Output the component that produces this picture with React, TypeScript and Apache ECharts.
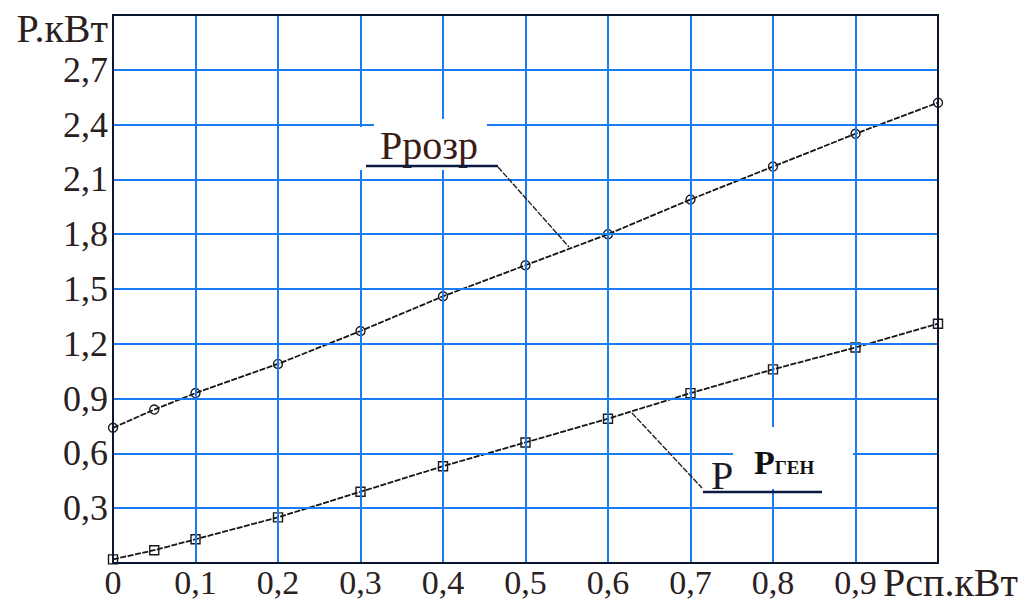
import React, { useEffect, useRef } from "react";
import * as echarts from "echarts";

const xValues = [0, 0.05, 0.1, 0.2, 0.3, 0.4, 0.5, 0.6, 0.7, 0.8, 0.9, 1.0];
const pRozr = [0.74, 0.84, 0.93, 1.09, 1.27, 1.46, 1.63, 1.8, 1.99, 2.17, 2.35, 2.52];
const pGen = [0.02, 0.07, 0.13, 0.25, 0.39, 0.53, 0.66, 0.79, 0.93, 1.06, 1.18, 1.31];
const yAxisName = "P.кВт";
const xAxisName = "Pсп.кВт";
const rozrLabel = "Pрозр";

const SERIF = "'Liberation Serif', 'DejaVu Serif', serif";
const GRID_BLUE = "#1a7cf5";
const BORDER = "#0a1530";

export default function App() {
  const ref = useRef<HTMLDivElement>(null);
  useEffect(() => {
    document.body.style.margin = "0";
    const chart = echarts.init(ref.current!, null, { renderer: "svg" });
    const fmt = (v: number) => String(Math.round(v * 10) / 10).replace(".", ",");
    chart.setOption({
      animation: false,
      backgroundColor: "#ffffff",
      grid: { left: 113, top: 15, right: 88, bottom: 40 },
      xAxis: [
        {
          type: "value",
          min: 0,
          max: 1,
          interval: 0.1,
          z: 4,
          axisLine: { show: true, onZero: false, lineStyle: { color: BORDER, width: 2 } },
          axisTick: { show: false },
          splitLine: { show: true, lineStyle: { color: GRID_BLUE, width: 2 } },
          axisLabel: {
            margin: 2,
            fontFamily: SERIF,
            fontSize: 34,
            color: "#2a2020",
            formatter: (v: number) => (v > 0.95 ? "" : fmt(v)),
          },
        },
        {
          type: "value",
          position: "top",
          min: 0,
          max: 1,
          z: 4,
          axisLine: { show: true, onZero: false, lineStyle: { color: BORDER, width: 2 } },
          axisTick: { show: false },
          axisLabel: { show: false },
          splitLine: { show: false },
        },
      ],
      yAxis: [
        {
          type: "value",
          min: 0,
          max: 3,
          interval: 0.3,
          z: 4,
          axisLine: { show: true, onZero: false, lineStyle: { color: BORDER, width: 2 } },
          axisTick: { show: false },
          splitLine: { show: true, lineStyle: { color: GRID_BLUE, width: 2 } },
          axisLabel: {
            margin: 5,
            fontFamily: SERIF,
            fontSize: 36,
            color: "#2a2020",
            formatter: (v: number) => (v < 0.01 || v > 2.95 ? "" : fmt(v)),
          },
        },
        {
          type: "value",
          position: "right",
          min: 0,
          max: 3,
          z: 4,
          axisLine: { show: true, onZero: false, lineStyle: { color: BORDER, width: 2 } },
          axisTick: { show: false },
          axisLabel: { show: false },
          splitLine: { show: false },
        },
      ],
      series: [
        {
          type: "line",
          data: xValues.map((x, i) => [x, pRozr[i]]),
          symbol: "circle",
          symbolSize: 9,
          itemStyle: { color: "rgba(255,255,255,0)", borderColor: "#1a1a1a", borderWidth: 1.4 },
          lineStyle: { color: "#151515", width: 1.8, type: [6, 1.5] },
          z: 2,
        },
        {
          type: "line",
          data: xValues.map((x, i) => [x, pGen[i]]),
          symbol: "rect",
          symbolSize: 9,
          itemStyle: { color: "rgba(255,255,255,0)", borderColor: "#1a1a1a", borderWidth: 1.4 },
          lineStyle: { color: "#151515", width: 1.8, type: [6, 1.5] },
          z: 2,
        },
      ],
      graphic: [
        // white patches behind labels
        { type: "rect", z: 10, shape: { x: 358, y: 127, width: 132, height: 43 }, style: { fill: "#fff" } },
        { type: "rect", z: 10, shape: { x: 374, y: 119, width: 113, height: 10 }, style: { fill: "#fff" } },
        {
          type: "text",
          z: 11,
          x: 380,
          y: 145,
          style: { text: rozrLabel, font: `40px ${SERIF}`, fill: "#3a1c14", textVerticalAlign: "middle" },
        },
        { type: "line", z: 11, shape: { x1: 366, y1: 166, x2: 498, y2: 166 }, style: { stroke: "#0b1a40", lineWidth: 2.5 } },
        { type: "line", z: 11, shape: { x1: 498, y1: 167, x2: 569, y2: 247 }, style: { stroke: "#222", lineWidth: 1.4, lineDash: [6, 1.5] } },
        // Pген label
        {
          type: "text",
          z: 11,
          x: 711,
          y: 475,
          style: { text: "P", font: `40px ${SERIF}`, fill: "#1e1a24", textVerticalAlign: "middle" },
        },
        { type: "rect", z: 12, shape: { x: 733, y: 427, width: 120, height: 62 }, style: { fill: "#fff" } },
        {
          type: "text",
          z: 13,
          x: 754,
          y: 462,
          style: {
            text: "{a|P}{b|ГЕН}",
            textVerticalAlign: "middle",
            rich: {
              a: { font: `bold 34px ${SERIF}`, fill: "#111", verticalAlign: "bottom" },
              b: { font: `bold 19px ${SERIF}`, fill: "#111", verticalAlign: "bottom", padding: [0, 0, 2, 0] },
            },
          },
        },
        { type: "line", z: 13, shape: { x1: 703, y1: 492, x2: 822, y2: 492 }, style: { stroke: "#0b1a40", lineWidth: 2.5 } },
        { type: "line", z: 11, shape: { x1: 632, y1: 413, x2: 702, y2: 488 }, style: { stroke: "#222", lineWidth: 1.4, lineDash: [6, 1.5] } },
        // axis names
        {
          type: "text",
          z: 11,
          x: 108,
          y: 28,
          style: { text: yAxisName, font: `40px ${SERIF}`, fill: "#2a2020", textAlign: "right", textVerticalAlign: "middle" },
        },
        {
          type: "text",
          z: 11,
          x: 883,
          y: 582,
          style: { text: xAxisName, font: `40px ${SERIF}`, fill: "#2a2020", textAlign: "left", textVerticalAlign: "middle" },
        },
      ],
    });
    return () => chart.dispose();
  }, []);
  return <div ref={ref} style={{ width: 1026, height: 603 }} />;
}
